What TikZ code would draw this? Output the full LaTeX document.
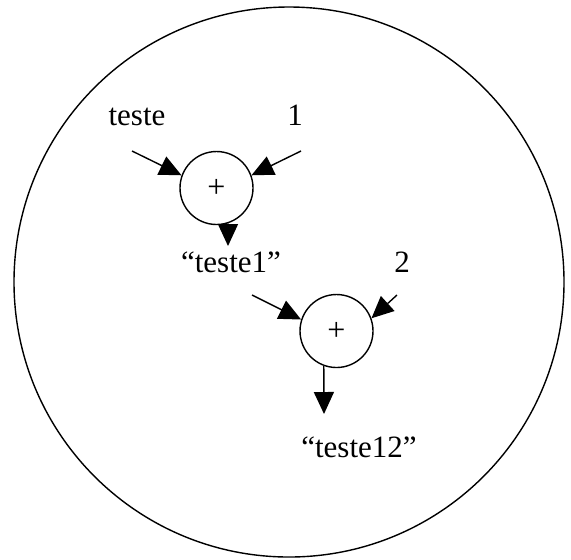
\documentclass[tikz,border=0pt]{standalone}
\usepackage{fontspec}
\setmainfont{Liberation Serif}
\usepackage{tikz}
\usetikzlibrary{arrows.meta}

\begin{document}
\begin{tikzpicture}[x=0.5pt, y=-0.5pt, line width=0.7pt,
  sumnode/.style={draw, circle, minimum size=36.5pt, inner sep=0pt},
  flow/.style={-{Triangle[length=11pt, width=10pt]}},
  lbl/.style={anchor=base, inner sep=0pt, font=\fontsize{15.5}{18}\selectfont}]
\useasboundingbox (0,0) rectangle (571,559);

\draw (289,282) circle[radius=275];

\node[sumnode, font=\fontsize{16}{18}\selectfont] (sum1) at (216.5,188) {+};
\node[sumnode, font=\fontsize{16}{18}\selectfont] (sum2) at (336.5,331) {+};

\node[lbl] (teste) at (137,125) {teste};
\node[lbl] (one) at (295,125) {1};
\node[lbl] (teste1) at (231,272) {“teste1”};
\node[lbl] (two) at (402,272) {2};
\node[lbl] (teste12) at (359,457) {“teste12”};

\coordinate (in1a) at (132,151);
\coordinate (in1b) at (301,151);
\coordinate (out1) at (228,246);
\coordinate (in2a) at (252,295);
\coordinate (in2b) at (397,295);
\coordinate (out2) at (324,414);

\draw[flow] (in1a) -- (sum1.160);
\draw[flow] (in1b) -- (sum1.20);
\draw[flow] (sum1.-72) -- (out1);
\draw[flow] (in2a) -- (sum2.162);
\draw[flow] (in2b) -- (sum2.20);
\draw[flow] (sum2.-110) -- (out2);
\end{tikzpicture}
\end{document}
